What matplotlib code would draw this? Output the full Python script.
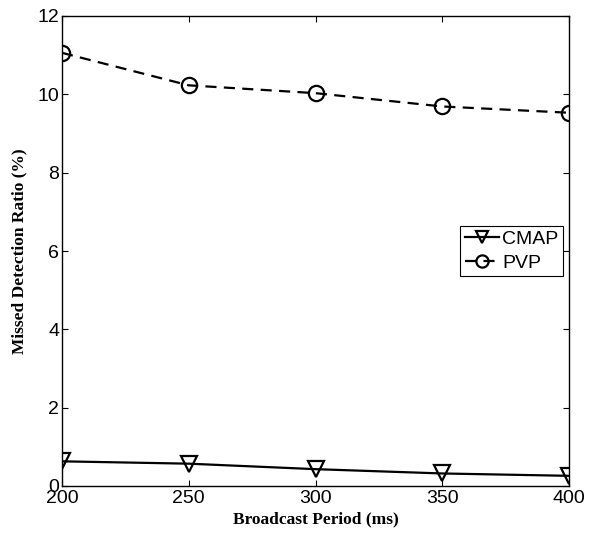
import matplotlib
matplotlib.use('Agg')
import matplotlib.pyplot as plt

# broadcast period (ms) vs missed detection ratio (%)
periods = [200, 250, 300, 350, 400]
cmap_ratio = [0.63, 0.57, 0.43, 0.32, 0.26]
pvp_ratio = [11.06, 10.23, 10.03, 9.69, 9.53]
y_ticks = [0, 2, 4, 6, 8, 10, 12]

plt.rcParams['font.family'] = 'Liberation Sans'
label_font = {'family': 'Liberation Serif', 'weight': 'bold', 'size': 12.5}

fig = plt.figure(figsize=(6.02, 5.36), dpi=100)
ax = fig.add_axes([62 / 602, 1 - 486 / 536, (569 - 62) / 602, (486 - 16) / 536])

ax.plot(periods, cmap_ratio, color='black', lw=1.6, marker='v', ms=11,
        mfc='none', mew=1.6, label='CMAP')
ax.plot(periods, pvp_ratio, color='black', lw=1.6, ls=(0, (5, 3.3)), marker='o', ms=11,
        mfc='none', mew=1.6, label='PVP')

ax.set_xlim(200, 400)
ax.set_ylim(0, 12)
ax.set_xticks(periods)
ax.set_yticks(y_ticks)
ax.tick_params(direction='in', top=True, right=True, labelsize=14, length=4)
ax.tick_params(axis='x', pad=3)
ax.tick_params(axis='y', pad=2)
for s in ax.spines.values():
    s.set_linewidth(1.0)

ax.set_xlabel('Broadcast Period (ms)', fontdict=label_font, labelpad=3)
ax.set_ylabel('Missed Detection Ratio (%)', fontdict=label_font, labelpad=7)

leg = ax.legend(loc='center right', fontsize=14, handlelength=1.75, handletextpad=0.15,
                borderpad=0.25, labelspacing=0.3, borderaxespad=0.3, fancybox=False,
                edgecolor='black', framealpha=1, markerscale=0.8)
leg.get_frame().set_linewidth(0.8)

fig.savefig('out.png', dpi=100)
